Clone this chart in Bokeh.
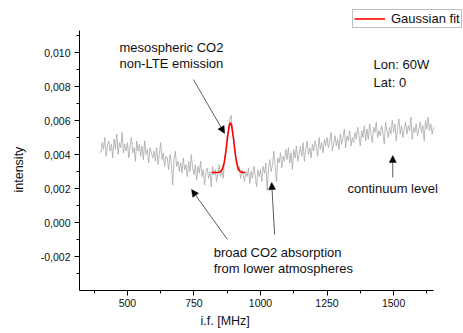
from bokeh.plotting import figure
from bokeh.models import (Range1d, FixedTicker, CustomJSTickFormatter, Label, Arrow,
                          NormalHead, Legend, LegendItem, Title)
from bokeh.embed import file_html
from bokeh.resources import INLINE
import numpy as np

# ---- data -------------------------------------------------------------
freq = np.arange(400, 1655, 5)  # MHz, 5 MHz channel grid

intensity = [
    # 400
    0.0041, 0.0047, 0.0043, 0.0050, 0.0039, 0.0045, 0.0048, 0.0042, 0.0046, 0.0038,
    # 450
    0.0049, 0.0043, 0.0052, 0.0040, 0.0047, 0.0044, 0.0053, 0.0041, 0.0046, 0.0042,
    # 500
    0.0047, 0.0038, 0.0045, 0.0050, 0.0041, 0.0044, 0.0036, 0.0048, 0.0042, 0.0046,
    # 550
    0.0039, 0.0045, 0.0037, 0.0048, 0.0040, 0.0043, 0.0035, 0.0044, 0.0041, 0.0038,
    # 600
    0.0042, 0.0036, 0.0044, 0.0034, 0.0040, 0.0047, 0.0037, 0.0041, 0.0033, 0.0039,
    # 650
    0.0038, 0.0031, 0.0040, 0.0035, 0.0022, 0.0037, 0.0042, 0.0033, 0.0036, 0.0030,
    # 700
    0.0035, 0.0029, 0.0038, 0.0031, 0.0034, 0.0027, 0.0036, 0.0030, 0.0040, 0.0032,
    # 750
    0.0028, 0.0034, 0.0025, 0.0033, 0.0029, 0.0036, 0.0027, 0.0031, 0.0022, 0.0030,
    # 800
    0.0032, 0.0026, 0.0030, 0.0021, 0.0033, 0.0028, 0.0031, 0.0024, 0.0029, 0.0034,
    # 850
    0.0027, 0.0031, 0.0026, 0.0037, 0.0041, 0.0051, 0.0054, 0.0061, 0.0063, 0.0053,
    # 900
    0.0050, 0.0040, 0.0037, 0.0030, 0.0033, 0.0026, 0.0031, 0.0028, 0.0024, 0.0030,
    # 950
    0.0027, 0.0032, 0.0023, 0.0030, 0.0026, 0.0033, 0.0028, 0.0021, 0.0031, 0.0027,
    # 1000
    0.0031, 0.0024, 0.0033, 0.0029, 0.0035, 0.0019, 0.0032, 0.0037, 0.0030, 0.0034,
    # 1050
    0.0042, 0.0033, 0.0024, 0.0038, 0.0035, 0.0041, 0.0032, 0.0039, 0.0036, 0.0043,
    # 1100
    0.0037, 0.0044, 0.0035, 0.0041, 0.0031, 0.0043, 0.0038, 0.0045, 0.0036, 0.0040,
    # 1150
    0.0045, 0.0039, 0.0047, 0.0036, 0.0043, 0.0048, 0.0040, 0.0044, 0.0038, 0.0046,
    # 1200
    0.0042, 0.0048, 0.0044, 0.0039, 0.0050, 0.0043, 0.0047, 0.0041, 0.0049, 0.0045,
    # 1250
    0.0050, 0.0044, 0.0048, 0.0053, 0.0042, 0.0047, 0.0051, 0.0045, 0.0049, 0.0043,
    # 1300
    0.0052, 0.0046, 0.0050, 0.0055, 0.0044, 0.0051, 0.0048, 0.0054, 0.0045, 0.0050,
    # 1350
    0.0047, 0.0053, 0.0049, 0.0056, 0.0051, 0.0045, 0.0054, 0.0050, 0.0057, 0.0048,
    # 1400
    0.0055, 0.0049, 0.0058, 0.0052, 0.0047, 0.0056, 0.0053, 0.0059, 0.0050, 0.0054,
    # 1450
    0.0051, 0.0057, 0.0053, 0.0046, 0.0059, 0.0054, 0.0050, 0.0056, 0.0052, 0.0060,
    # 1500
    0.0053, 0.0058, 0.0048, 0.0056, 0.0061, 0.0052, 0.0057, 0.0050, 0.0055, 0.0059,
    # 1550
    0.0052, 0.0057, 0.0054, 0.0062, 0.0049, 0.0056, 0.0053, 0.0058, 0.0051, 0.0055,
    # 1600
    0.0059, 0.0053, 0.0057, 0.0048, 0.0060, 0.0055, 0.0062, 0.0054, 0.0058, 0.0052,
    # 1650
    0.0056,
]

fit_freq = [816, 840, 850, 858, 864, 870, 876, 882, 887, 892, 898, 904, 910, 916, 924, 934, 942]
fit_intensity = [0.00294, 0.00294, 0.00299, 0.00318, 0.00355, 0.00419, 0.00499, 0.00567,
                 0.00588, 0.00567, 0.00499, 0.00419, 0.00355, 0.00318, 0.00299, 0.00294, 0.00294]

x_ticks = [500, 750, 1000, 1250, 1500]
x_minor = [375, 625, 875, 1125, 1375, 1625]
y_ticks = [-0.002, 0.0, 0.002, 0.004, 0.006, 0.008, 0.010]
y_minor = [-0.003, -0.001, 0.001, 0.003, 0.005, 0.007, 0.009, 0.011]

FONT = "Liberation Sans"

# ---- figure -----------------------------------------------------------
# The frame reaches beyond the drawn axes so that the legend and labels are
# not clipped; the axis lines are limited with "bounds".
p = figure(width=463, height=333, output_backend="svg", toolbar_location=None,
           x_range=Range1d(320, 1762.7), y_range=Range1d(-0.004, 0.012765),
           min_border_left=79, min_border_right=0, min_border_top=5,
           min_border_bottom=43)
p.outline_line_color = None
p.grid.visible = False
p.background_fill_color = "white"
p.border_fill_color = "white"

spec = p.line(freq, intensity, line_color="#a8a8a8", line_width=0.8)
fit = p.line(fit_freq, fit_intensity, line_color="#ff0000", line_width=1.6)

# axes
for ax in (p.xaxis[0], p.yaxis[0]):
    ax.axis_line_color = "black"
    ax.major_tick_line_color = "black"
    ax.minor_tick_line_color = "black"
    ax.major_tick_in = 0
    ax.major_tick_out = 5
    ax.minor_tick_in = 0
    ax.minor_tick_out = 3
    ax.major_label_text_font = FONT
    ax.major_label_text_font_size = "10.5px"
    ax.major_label_text_color = "#111111"

p.xaxis.bounds = (320, 1650)
p.yaxis.bounds = (-0.004, 0.0113)
p.xaxis.ticker = FixedTicker(ticks=x_ticks, minor_ticks=x_minor)
p.yaxis.ticker = FixedTicker(ticks=y_ticks, minor_ticks=y_minor)
p.yaxis.formatter = CustomJSTickFormatter(
    code="var v = Math.abs(tick) < 1e-9 ? 0 : tick; return v.toFixed(3).replace('.', ',');")
p.xaxis.major_label_standoff = 3
p.yaxis.major_label_standoff = 4

# axis titles (both sit off-centre in the original)
p.add_layout(Title(text="i.f. [MHz]", align="left", offset=121, standoff=4,
                   text_font=FONT, text_font_size="12.5px", text_font_style="normal",
                   text_color="#111111"), "below")
p.add_layout(Title(text="intensity", align="left", offset=98, standoff=20,
                   vertical_align="top",
                   text_font=FONT, text_font_size="12.5px", text_font_style="normal",
                   text_color="#111111"), "left")

# annotations
def txt(x, y, s):
    p.add_layout(Label(x=x, y=y, text=s, text_font=FONT, text_font_size="13px",
                       text_color="#111111", text_baseline="middle", text_align="left"))

txt(470, 0.01029, "mesospheric CO2")
txt(470, 0.00935, "non-LTE emission")
txt(824, -0.00176, "broad CO2 absorption")
txt(824, -0.00271, "from lower atmospheres")
txt(1327, 0.0020, "continuum level")
txt(1425, 0.00929, "Lon: 60W")
txt(1425, 0.00826, "Lat: 0")

arrows = [
    (748, 0.00841, 865, 0.00524),
    (876, -0.0010, 741, 0.00194),
    (1053, -0.00071, 1042, 0.00235),
    (1497, 0.00265, 1497, 0.00394),
]
for x0, y0, x1, y1 in arrows:
    p.add_layout(Arrow(x_start=x0, y_start=y0, x_end=x1, y_end=y1,
                       line_color="#333333", line_width=0.8,
                       end=NormalHead(size=7, fill_color="black", line_color="black",
                                      line_width=0.5)))

legend = Legend(items=[LegendItem(label="Gaussian fit", renderers=[fit])],
                location=(273, 262), orientation="vertical",
                border_line_color="#808080", border_line_width=1,
                background_fill_color="white", background_fill_alpha=1,
                label_text_font=FONT, label_text_font_size="13px",
                label_text_color="#111111", label_text_line_height=0.8,
                glyph_width=31, glyph_height=9, label_height=9,
                padding=1, spacing=0, margin=0, label_standoff=6)
p.add_layout(legend)

open("out.html", "w").write(file_html(p, INLINE))
